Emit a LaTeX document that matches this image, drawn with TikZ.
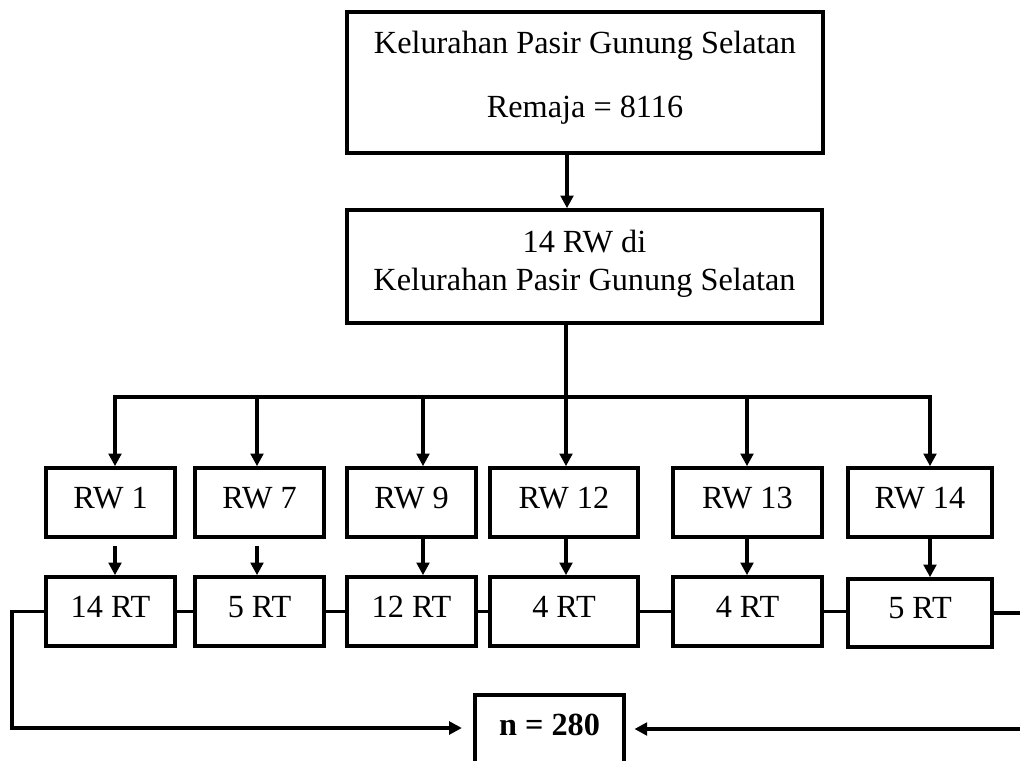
\documentclass[tikz,border=0pt]{standalone}
\usepackage{fontspec}
\setmainfont{Liberation Serif}
\usetikzlibrary{arrows.meta}
\begin{document}
\begin{tikzpicture}[x=0.75pt,y=-0.75pt,
  every node/.style={font=\fontsize{24.2pt}{28.5pt}\selectfont},
  frame/.style={draw, line width=2.7pt, inner sep=0pt},
  cell/.style={frame, minimum height=51.75pt, text height=16.5pt, text depth=8.25pt},
  link/.style={line width=2.7pt},
  arr/.style={link, -{Triangle[length=9.5pt,width=9.5pt]}},
]
\useasboundingbox (0,0) rectangle (1020,760);

% top boxes
\node[frame, minimum width=357pt, minimum height=105.75pt, align=center] (top) at (585,82.5)
  {Kelurahan Pasir Gunung Selatan\\[19.5pt]Remaja = 8116\rule[-12.3pt]{0pt}{12.3pt}};
\node[frame, minimum width=356.25pt, minimum height=84.75pt, align=center] (mid) at (584.5,266.5)
  {14 RW di\\Kelurahan Pasir Gunung Selatan\rule[-9.3pt]{0pt}{9.3pt}};

% RW row
\node[cell, minimum width=96.75pt] (rw1) at (110.5,502.5) {RW 1};
\node[cell, minimum width=96.75pt] (rw7) at (259.5,502.5) {RW 7};
\node[cell, minimum width=96.75pt] (rw9) at (411.5,502.5) {RW 9};
\node[cell, minimum width=111pt] (rw12) at (564,502.5) {RW 12};
\node[cell, minimum width=111.75pt] (rw13) at (747.5,502.5) {RW 13};
\node[cell, minimum width=108pt] (rw14) at (920,502.5) {RW 14};

% RT row
\node[cell, minimum width=96.75pt] (rt1) at (110.5,611.5) {14 RT};
\node[cell, minimum width=96.75pt] (rt2) at (259.5,611.5) {5 RT};
\node[cell, minimum width=96.75pt] (rt3) at (411.5,611.5) {12 RT};
\node[cell, minimum width=111pt] (rt4) at (564,611.5) {4 RT};
\node[cell, minimum width=111.75pt] (rt5) at (747.5,611.5) {4 RT};
\node[cell, minimum width=108pt, minimum height=51pt] (rt6) at (920,613) {5 RT};

% result
\node[cell, minimum width=111.75pt, font=\fontsize{24.2pt}{28.5pt}\selectfont\bfseries] (n) at (549.5,729.5) {n = 280};

% helper coordinates
\coordinate (ac) at (567,0);
\coordinate (bus) at (0,397);
\coordinate (ax1) at (115,0);
\coordinate (ax2) at (257,0);
\coordinate (ax3) at (423,0);
\coordinate (ax4) at (566,0);
\coordinate (ax5) at (747,0);
\coordinate (ax6) at (930,0);
\coordinate (lft) at (12,728);
\coordinate (rgt) at (1034,729);

% top connectors
\draw[arr] (top.south -| ac) -- (mid.north -| ac);
\draw[arr] (mid.south -| ax4) -- (rw12.north -| ax4);

% bus
\draw[arr] (bus -| ax4) -- (bus -| ax1) -- (rw1.north -| ax1);
\draw[arr] (bus -| ax4) -- (bus -| ax6) -- (rw14.north -| ax6);
\draw[arr] (bus -| ax2) -- (rw7.north -| ax2);
\draw[arr] (bus -| ax3) -- (rw9.north -| ax3);
\draw[arr] (bus -| ax5) -- (rw13.north -| ax5);

% RW to RT
\draw[arr, shorten <=5.25pt] (rw1.south -| ax1) -- (rt1.north -| ax1);
\draw[arr, shorten <=5.25pt] (rw7.south -| ax2) -- (rt2.north -| ax2);
\draw[arr] (rw9.south -| ax3) -- (rt3.north -| ax3);
\draw[arr] (rw12.south -| ax4) -- (rt4.north -| ax4);
\draw[arr] (rw13.south -| ax5) -- (rt5.north -| ax5);
\draw[arr] (rw14.south -| ax6) -- (rt6.north -| ax6);

% RT links
\draw[link] (rt1.east) -- (rt2.west);
\draw[link] (rt2.east) -- (rt3.west);
\draw[link] (rt3.east) -- (rt4.west);
\draw[link] (rt4.east) -- (rt5.west);
\draw[link] (rt5.east) -- (rt6.west |- rt5.east);

% to result
\draw[arr, shorten >=8.5pt] (rt1.west) -| (lft) -- (n.west |- lft);
\draw[arr, shorten >=6.5pt] (rt6.east) -| (rgt) -- (n.east |- rgt);
\end{tikzpicture}
\end{document}
